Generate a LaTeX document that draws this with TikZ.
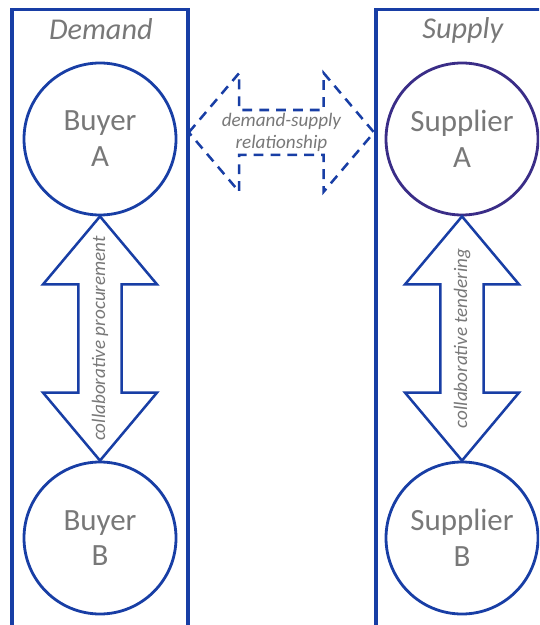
\documentclass[tikz,border=0pt]{standalone}
\usepackage{fontspec}
\setmainfont{Carlito}
\usetikzlibrary{calc}
\definecolor{frameblue}{RGB}{24,62,165}
\definecolor{ringviolet}{RGB}{58,45,135}
\definecolor{textgrey}{RGB}{120,120,120}
\tikzset{actor/.style={
    circle, draw=frameblue, line width=2pt,
    minimum size=3.8cm, inner sep=0pt,
    align=center, text=textgrey,
    font=\fontsize{22}{25.5}\selectfont
  },
  side title/.style={
    text=textgrey, font=\fontsize{21.5}{25}\selectfont\itshape
  },
  arrow label/.style={
    text=textgrey, font=\fontsize{13.6}{16}\selectfont\itshape
  },
  outline arrow/.style={
    draw=frameblue, line width=1.8pt, line join=miter
  },
  frame/.style={
    draw=frameblue, line width=2.2pt
  }
}

\begin{document}
\begin{tikzpicture}
  \useasboundingbox (0,0) rectangle (13.475,-15.625);
  \clip (0,0) rectangle (13.475,-15.625);

  % -- Draw the two sides.
  \draw[frame] (0.3,-16) -- (0.3,-0.24) -- (4.7,-0.24) -- (4.7,-16);
  \draw[frame] (9.4,-16) -- (9.4,-0.24) -- (14,-0.24);
  \node[side title] (demand) at (2.52,-0.72) {Demand};
  \node[side title] (supply) at (11.57,-0.75) {Supply};

  % -- The four parties.
  \node[actor] (buyA) at (2.5,-3.475) {Buyer\\A};
  \node[actor] (buyB) at (2.5,-13.45) {Buyer\\B};
  \node[actor, draw=ringviolet] (supA) at (11.55,-3.475) {Supplier\\A};
  \node[actor] (supB) at (11.55,-13.45) {Supplier\\B};

  % -- Hollow double arrows between the parties of one side.
  \draw[outline arrow] (buyA.south) -- ++(1.425,-1.7) -- ++(-0.885,0)
    -- ($(buyB.north)+(0.54,1.7)$) -- ++(0.885,0) -- (buyB.north)
    -- ++(-1.425,1.7) -- ++(0.885,0) -- ($(buyA.south)+(-0.54,-1.7)$)
    -- ++(-0.885,0) -- cycle;
  \draw[outline arrow] (supA.south) -- ++(1.425,-1.7) -- ++(-0.885,0)
    -- ($(supB.north)+(0.54,1.7)$) -- ++(0.885,0) -- (supB.north)
    -- ++(-1.425,1.7) -- ++(0.885,0) -- ($(supA.south)+(-0.54,-1.7)$)
    -- ++(-0.885,0) -- cycle;
  \node[arrow label, rotate=90] (procure) at ($(buyA.south)!0.5!(buyB.north)$) {collaborative procurement};
  \node[arrow label, rotate=90] (tender) at ($(supA.south)!0.5!(supB.north)$) {collaborative tendering};

  % -- Dashed arrow between the two sides.
  \coordinate (relL) at (4.72,-3.31);
  \coordinate (relR) at (9.35,-3.31);
  \draw[outline arrow, dash pattern=on 7pt off 5pt] (relL) -- ++(1.26,1.485) -- ++(0,-0.925)
    -- ($(relR)+(-1.26,0.56)$) -- ++(0,0.925) -- (relR)
    -- ++(-1.26,-1.485) -- ++(0,0.925) -- ($(relL)+(1.26,-0.56)$)
    -- ++(0,-0.925) -- cycle;
  \node[arrow label, align=center] (rel) at ($(relL)!0.5!(relR)$) {demand-supply\\relationship};
\end{tikzpicture}
\end{document}
